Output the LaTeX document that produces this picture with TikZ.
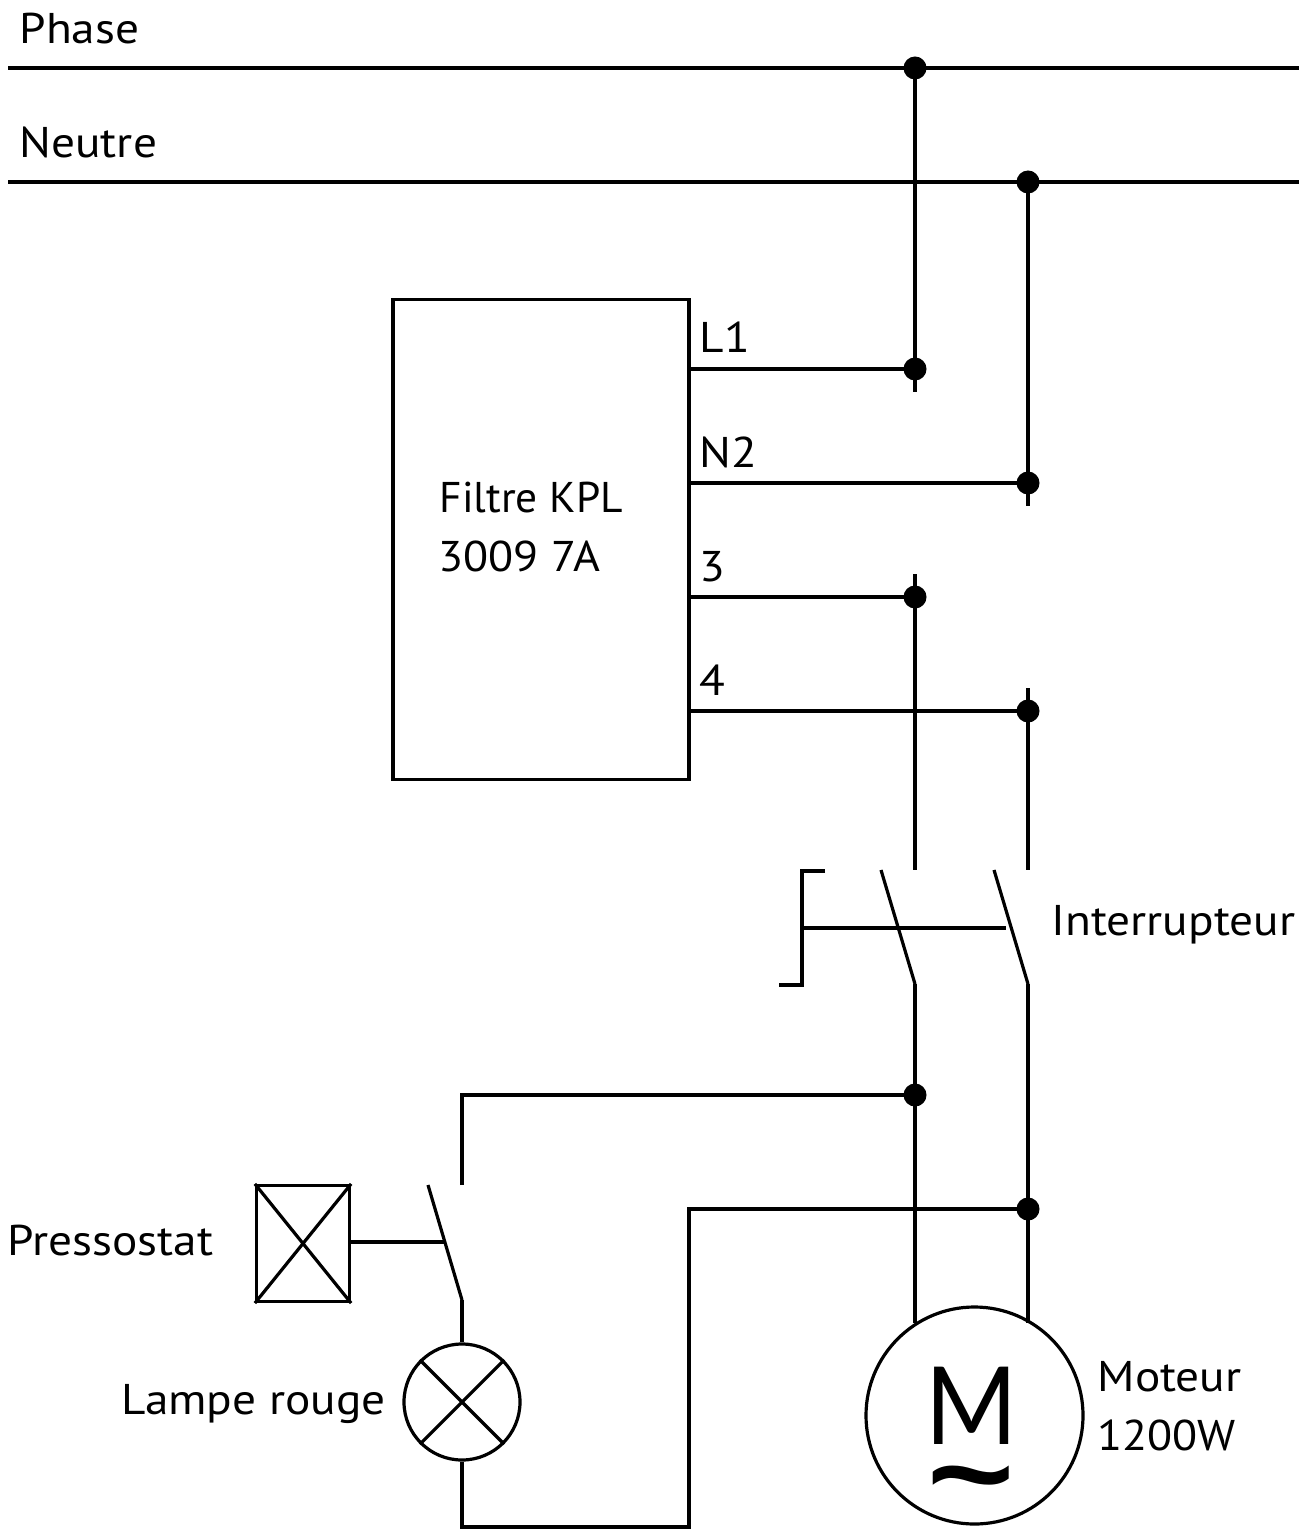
\documentclass[tikz,border=0pt]{standalone}
\usepackage{fontspec}
\setmainfont[FakeStretch=1.1]{PT Sans}
\newfontfamily\filterfont[FakeStretch=1.01]{PT Sans}
\newfontfamily\digitfont[FakeStretch=1.07]{PT Sans}
\newfontfamily\motorfont[FakeStretch=0.92]{Lato}
\newfontfamily\tildefont[FakeStretch=1.35]{Open Sans Bold}
\tikzset{
  wire/.style={line width=1.6pt,line cap=butt},
  dot/.style={circle,fill=black,inner sep=0pt,minimum size=11.5pt},
  lbl/.style={inner sep=0pt,anchor=base west,font=\fontsize{21.5}{29}\selectfont},
  box/.style={draw,line width=1.6pt,inner sep=0pt}
}
\begin{document}
\begin{tikzpicture}[x=0.5pt,y=-0.5pt]
\useasboundingbox (0,0) rectangle (1312,1529);
\tikzset{every path/.append style={wire}}
% buses
\coordinate (pl) at (8,68); \coordinate (pr) at (1299,68);
\coordinate (nl) at (8,182); \coordinate (nr) at (1299,182);
\draw (pl) -- (pr);
\draw (nl) -- (nr);
\node[lbl] (phase) at (18,44) {Phase};
\node[lbl] (neutre) at (18,158) {Neutre};
% filter
\node[box,minimum width=148pt,minimum height=240pt] (filtre) at (541,539.5) {};
\node[lbl,font=\fontsize{21.5}{29}\filterfont] (f1) at (438,512) {Filtre KPL};
\node[lbl,font=\fontsize{21.5}{29}\digitfont] (f2) at (437,571) {3009 7A};
\node[lbl] (l1) at (698,353) {L1};
\node[lbl] (n2) at (698,467) {N2};
\node[lbl] (t3) at (698,581) {3};
\node[lbl] (t4) at (698,695) {4};
% junctions
\node[dot] (d1) at (915,68) {};
\node[dot] (d2) at (1028,182) {};
\node[dot] (d3) at (915,369) {};
\node[dot] (d4) at (1028,483) {};
\node[dot] (d5) at (915,597) {};
\node[dot] (d6) at (1028,711) {};
\node[dot] (d7) at (915,1095) {};
\node[dot] (d8) at (1028,1209) {};
% stubs
\coordinate (s1) at (915,392);
\coordinate (s2) at (1028,506);
\coordinate (s3) at (915,574);
\coordinate (s4) at (1028,688);
\draw (d1.center) -- (s1);
\draw (d2.center) -- (s2);
\coordinate (a1) at (689,369); \coordinate (a2) at (689,483);
\coordinate (a3) at (689,597); \coordinate (a4) at (689,711);
\draw (a1) -- (d3.center);
\draw (a2) -- (d4.center);
\draw (a3) -- (d5.center);
\draw (a4) -- (d6.center);
% switch
\coordinate (c1t) at (915,870); \coordinate (c2t) at (1028,870);
\draw (s3) -- (c1t);
\draw (s4) -- (c2t);
\coordinate (c1o) at (881,870); \coordinate (c1b) at (915,984);
\coordinate (c2o) at (994,870); \coordinate (c2b) at (1028,984);
\draw (c1o) -- (c1b);
\draw (c2o) -- (c2b);
\coordinate (h0) at (802,928); \coordinate (h1) at (1006,928);
\draw (h0) -- (h1);
\draw (825,871) -- (802,871) -- (802,985) -- (779,985);
\node[lbl] (inter) at (1050,935) {Interrupteur};
% motor
\node[draw,circle,line width=1.6pt,minimum size=108.5pt,inner sep=0pt] (mot) at (974.5,1415.5) {};
\coordinate (m1) at (915,1323); \coordinate (m2) at (1028,1323);
\draw (c1b) -- (m1);
\draw (c2b) -- (m2);
\node[inner sep=0pt,align=center,anchor=center,font=\motorfont\fontsize{54}{36}\selectfont] (mm) at (971.5,1442) {M\\{\tildefont\fontsize{58}{36}\selectfont\char`\~}};
\node[lbl] (mo1) at (1096,1391) {Moteur};
\node[lbl,font=\fontsize{21.5}{29}\digitfont] (mo2) at (1096,1450) {1200W};
% pressostat
\node[box,minimum width=46.5pt,minimum height=58pt] (ps) at (303,1243.5) {};
\draw (ps.north west) -- (ps.south east);
\draw (ps.north east) -- (ps.south west);
\node[lbl] (ptxt) at (6,1255) {Pressostat};
\coordinate (ks) at (462,1185); \coordinate (ko) at (428,1185); \coordinate (kb) at (462,1300);
\draw (ko) -- (kb);
\coordinate (kh) at (444,1242);
\draw (ps.east |- kh) -- (kh);
\draw (ks) -- (462,1095) -- (d7.center);
% lamp
\node[draw,circle,line width=1.6pt,minimum size=58pt,inner sep=0pt] (lamp) at (462,1402) {};
\draw (lamp.45) -- (lamp.225);
\draw (lamp.135) -- (lamp.315);
\draw (kb) -- (lamp.north);
\node[lbl] (ltxt) at (120,1414) {Lampe rouge};
\draw (lamp.south) -- (462,1527) -- (689,1527) -- (689,1209) -- (d8.center);
\end{tikzpicture}
\end{document}
